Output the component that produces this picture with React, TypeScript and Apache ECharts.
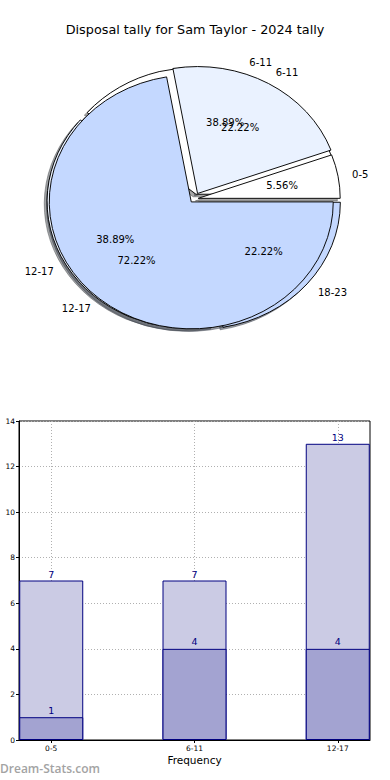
import React, { useEffect, useRef } from 'react';
import * as echarts from 'echarts';

// ---- data ----
const chartTitle = 'Disposal tally for Sam Taylor - 2024 tally';
const backPieCategories = ['6-11', '12-17', '18-23'];
const backPieValues = [7, 7, 4];
const frontPieCategories = ['0-5', '6-11', '12-17'];
const frontPieValues = [1, 4, 13];
const barCategories = ['0-5', '6-11', '12-17'];
const barUpperValues = [7, 7, 13];
const barLowerValues = [1, 4, 4];
const xAxisName = 'Frequency';
const yAxisName = 'Disposal tally';
const watermark = 'Dream-Stats.com';

// ---- layout / style ----
const sliceColors = ['#ffffff', '#eaf2ff', '#c4d8ff'];
const backExplode = [0.04, 0.04, 0.04];
const frontExplode = [0.03, 0.05, 0.03];
const CX = 194;
const CY = 199;
const RX = 142;
const RY = 127;
const FONT = 'DejaVu Sans';

type Slice = {
  pie: number;
  name: string;
  value: number;
  start: number;
  end: number;
  pct: string;
  color: string;
  explode: number;
};

function buildSlices(cats: string[], vals: number[], pie: number, explode: number[]): Slice[] {
  const total = vals.reduce((a, b) => a + b, 0);
  let a = 0;
  return cats.map((c, i) => {
    const span = (vals[i] / total) * 360;
    const s: Slice = {
      pie,
      name: c,
      value: vals[i],
      start: a,
      end: a + span,
      pct: ((vals[i] / total) * 100).toFixed(2) + '%',
      color: sliceColors[i % sliceColors.length],
      explode: explode[i],
    };
    a += span;
    return s;
  });
}

const slices: Slice[] = [
  ...buildSlices(backPieCategories, backPieValues, 0, backExplode),
  ...buildSlices(frontPieCategories, frontPieValues, 1, frontExplode),
];

function shadowOf(hex: string) {
  const n = parseInt(hex.slice(1), 16);
  const r = Math.round(((n >> 16) & 255) * 0.3);
  const g = Math.round(((n >> 8) & 255) * 0.3);
  const b = Math.round((n & 255) * 0.3);
  return `rgba(${r},${g},${b},0.5)`;
}

export default function App() {
  const ref = useRef<HTMLDivElement>(null);
  useEffect(() => {
    if (!ref.current) return;
    const chart = echarts.init(ref.current, undefined, { renderer: 'svg' });
    const renderItem = (params: any) => {
      const s = slices[params.dataIndex];
      const mid = (((s.start + s.end) / 2) * Math.PI) / 180;
      const ox = CX + Math.cos(mid) * s.explode * RX;
      const oy = CY - Math.sin(mid) * s.explode * RY;
      const sa = (-s.end * Math.PI) / 180;
      const ea = (-s.start * Math.PI) / 180;
      const scaleY = RY / RX;
      const baseZ = s.pie === 0 ? 10 : 20;
      const cosm = Math.cos(mid);
      const lx = ox + cosm * 1.1 * RX;
      const ly = oy - Math.sin(mid) * 1.1 * RY;
      const px = ox + cosm * 0.6 * RX;
      const py = oy - Math.sin(mid) * 0.6 * RY;
      const sh = shadowOf(s.color);
      return {
        type: 'group',
        children: [
          {
            type: 'sector',
            x: ox - 0.02 * RX,
            y: oy + 0.02 * RY,
            scaleY,
            z2: 1,
            shape: { cx: 0, cy: 0, r: RX, r0: 0, startAngle: sa, endAngle: ea, clockwise: true },
            style: { fill: sh, stroke: sh, lineWidth: 1 },
          },
          {
            type: 'sector',
            x: ox,
            y: oy,
            scaleY,
            z2: baseZ,
            shape: { cx: 0, cy: 0, r: RX, r0: 0, startAngle: sa, endAngle: ea, clockwise: true },
            style: { fill: s.color, stroke: '#000', lineWidth: 1, strokeNoScale: true },
          },
          {
            type: 'text',
            x: lx,
            y: ly,
            z2: 100,
            style: {
              text: s.name,
              fill: '#000',
              font: `10px "${FONT}"`,
              align: cosm > 0 ? 'left' : 'right',
              verticalAlign: 'middle',
            },
          },
          {
            type: 'text',
            x: px,
            y: py,
            z2: 100,
            style: {
              text: s.pct,
              fill: '#000',
              font: `10px "${FONT}"`,
              align: 'center',
              verticalAlign: 'middle',
            },
          },
        ],
      };
    };

    chart.setOption({
      animation: false,
      backgroundColor: '#ffffff',
      textStyle: { fontFamily: FONT },
      title: {
        text: chartTitle,
        left: 'center',
        top: 23,
        padding: 0,
        textStyle: { fontSize: 12.8, fontWeight: 'normal', color: '#000', fontFamily: FONT },
      },
      graphic: [
        {
          type: 'text',
          left: 0,
          top: 762,
          style: {
            text: watermark,
            fill: '#a3a3a3',
            font: '600 12px "Open Sans"',
          },
        },
      ],
      grid: {
        left: 19,
        right: 20,
        top: 421,
        bottom: 40,
        show: true,
        borderColor: '#000',
        borderWidth: 1,
        backgroundColor: 'transparent',
        containLabel: false,
        outerBoundsMode: 'none',
      },
      xAxis: {
        type: 'value',
        min: -0.225,
        max: 2.225,
        name: xAxisName,
        nameLocation: 'middle',
        nameGap: 14,
        nameTextStyle: { fontSize: 10.5, color: '#000', fontFamily: FONT },
        axisLine: { show: true, onZero: false, lineStyle: { color: '#000' } },
        axisTick: { show: true, customValues: [0, 1, 2], length: 3, lineStyle: { color: '#000' } },
        axisLabel: {
          customValues: [0, 1, 2],
          formatter: (v: number) => barCategories[Math.round(v)],
          fontSize: 7.5,
          margin: 4,
          color: '#000',
          fontFamily: FONT,
        },
        splitLine: { show: true, lineStyle: { type: [1, 2], color: '#b0b0b0' } },
      },
      yAxis: {
        type: 'value',
        min: 0,
        max: 14,
        interval: 2,
        name: yAxisName,
        nameLocation: 'middle',
        nameGap: 16,
        nameTextStyle: { fontSize: 10.5, color: '#000', fontFamily: FONT },
        axisLine: { show: true, onZero: false, lineStyle: { color: '#000' } },
        axisTick: { show: true, length: 3, lineStyle: { color: '#000' } },
        axisLabel: { fontSize: 7.5, margin: 4, color: '#000', fontFamily: FONT },
        splitLine: { show: true, lineStyle: { type: [1, 2], color: '#b0b0b0' } },
      },
      series: [
        {
          type: 'custom',
          coordinateSystem: 'none',
          silent: true,
          renderItem,
          data: slices.map((s) => [s.value]),
        },
        {
          type: 'bar',
          data: barCategories.map((_, i) => [i, barUpperValues[i]]),
          barWidth: 64,
          barGap: '-100%',
          z: 2,
          itemStyle: { color: '#cbcbe4', borderColor: '#000080', borderWidth: 1 },
          label: {
            show: true,
            position: 'top',
            distance: 1,
            color: '#000080',
            fontSize: 9.5,
            fontFamily: FONT,
          },
        },
        {
          type: 'bar',
          data: barCategories.map((_, i) => [i, barLowerValues[i]]),
          barWidth: 64,
          barGap: '-100%',
          z: 3,
          itemStyle: { color: '#a3a3d1', borderColor: '#000080', borderWidth: 1 },
          label: {
            show: true,
            position: 'top',
            distance: 2,
            color: '#000080',
            fontSize: 9.5,
            fontFamily: FONT,
          },
        },
      ],
    });
    return () => chart.dispose();
  }, []);
  return (
    <div
      ref={ref}
      style={{ position: 'fixed', left: 0, top: 0, width: 390, height: 780 }}
    />
  );
}
